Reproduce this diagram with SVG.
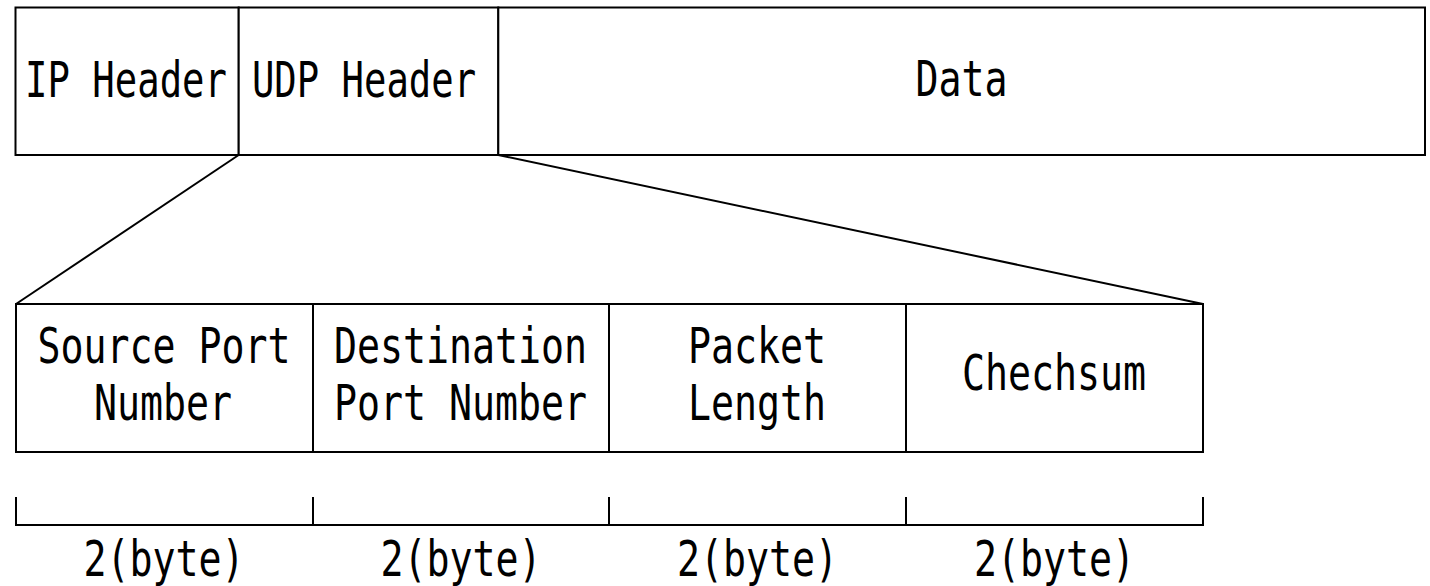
<svg xmlns="http://www.w3.org/2000/svg" width="1430" height="586" viewBox="0 0 1430 586">
  <style>
    .box { fill: #ffffff; stroke: #000000; stroke-width: 2; }
    .ln { fill: none; stroke: #000000; stroke-width: 2; }
    .lbl { font-family: "DejaVu Sans Mono", "Liberation Mono", monospace; font-size: 50px; fill: #000000; text-anchor: middle; }
  </style>
  <rect width="1430" height="586" fill="#ffffff"/>

  <!-- expansion lines from the UDP header to its field layout -->
  <g id="connectors">
    <line class="ln" x1="238.7" y1="155" x2="16" y2="304"/>
    <line class="ln" x1="498.3" y1="155" x2="1203" y2="304"/>
  </g>

  <!-- packet: IP header | UDP header | data; labels are narrowed mono text -->
  <g id="ip-header">
    <rect class="box" x="15.5" y="7.5" width="223.2" height="147.5"/>
    <text class="lbl" transform="translate(126 97) scale(0.745 1)">IP Header</text>
  </g>
  <g id="udp-header">
    <rect class="box" x="238.7" y="7.5" width="259.6" height="147.5"/>
    <text class="lbl" transform="translate(364 97) scale(0.745 1)">UDP Header</text>
  </g>
  <g id="data">
    <rect class="box" x="498.3" y="7.5" width="926.7" height="147.5"/>
    <text class="lbl" transform="translate(961.5 96) scale(0.765 1)">Data</text>
  </g>

  <!-- UDP header fields -->
  <g id="source-port">
    <rect class="box" x="16" y="304" width="297" height="148"/>
    <text class="lbl" transform="translate(164 363) scale(0.765 1)">Source Port</text>
    <text class="lbl" transform="translate(163 419.5) scale(0.765 1)">Number</text>
  </g>
  <g id="destination-port">
    <rect class="box" x="313" y="304" width="296" height="148"/>
    <text class="lbl" transform="translate(460.5 363) scale(0.765 1)">Destination</text>
    <text class="lbl" transform="translate(460.5 419.5) scale(0.765 1)">Port Number</text>
  </g>
  <g id="packet-length">
    <rect class="box" x="609" y="304" width="297" height="148"/>
    <text class="lbl" transform="translate(757 363) scale(0.765 1)">Packet</text>
    <text class="lbl" transform="translate(757 419.5) scale(0.765 1)">Length</text>
  </g>
  <g id="checksum">
    <rect class="box" x="906" y="304" width="297" height="148"/>
    <text class="lbl" transform="translate(1054 390) scale(0.765 1)">Chechsum</text>
  </g>

  <!-- size bracket under the fields -->
  <g id="size-scale">
    <path class="ln" d="M16 497 V525 H1203 V497 M313 497 V525 M609 497 V525 M906 497 V525"/>
    <text class="lbl" transform="translate(164 576) scale(0.765 1)">2(byte)</text>
    <text class="lbl" transform="translate(461 576) scale(0.765 1)">2(byte)</text>
    <text class="lbl" transform="translate(757.5 576) scale(0.765 1)">2(byte)</text>
    <text class="lbl" transform="translate(1054.5 576) scale(0.765 1)">2(byte)</text>
  </g>
</svg>
